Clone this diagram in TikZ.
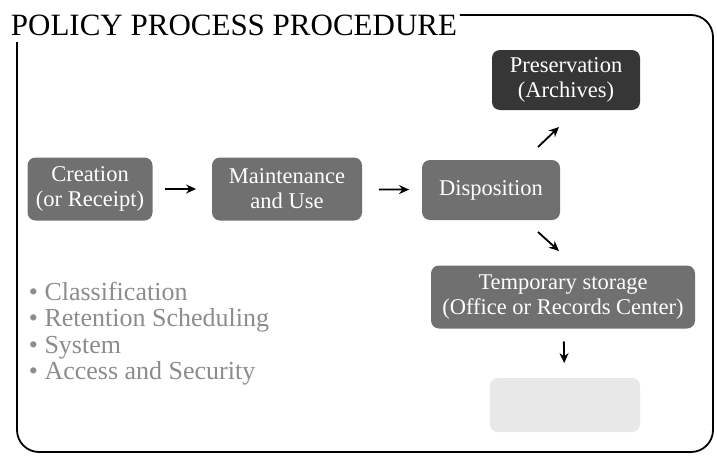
\documentclass[tikz,border=0pt]{standalone}
\usepackage{fontspec}
\setmainfont{Liberation Serif}
\usetikzlibrary{positioning,arrows.meta}

\definecolor{stagegray}{HTML}{707070}
\definecolor{archivegray}{HTML}{363636}
\definecolor{listgray}{HTML}{8C8C8C}

\begin{document}
\begin{tikzpicture}[
                x = 1pt, y = -1pt,
                > = {Stealth[length=10pt, width=9pt]},
                auto,
                node distance = 197pt,
                line width = 1.8pt
                ]

                \tikzstyle{stage}=[
                        rounded corners = 8pt,
                        fill = stagegray,
                        text = white,
                        align = center,
                        font = \fontsize{22.5}{25}\selectfont,
                        minimum height = 63pt,
                        inner sep = 2pt
                ]
                \tikzstyle{task}=[
                        anchor = base west,
                        text = listgray,
                        inner sep = 0pt,
                        font = \fontsize{26}{28}\selectfont
                ]

                \useasboundingbox (0,0) rectangle (717,455);

                % frame and heading
                \node[anchor=base west, inner sep=0pt, font=\fontsize{31}{34}\selectfont] (title) at (10,35) {POLICY PROCESS PROCEDURE};
                \draw[rounded corners=22pt] ([xshift=2pt]title.east |- 0,15) -- (713,15) -- (713,452) -- (17,452) -- (17,42);

                \node[stage, minimum width=125pt] (creation) at (90,189) {Creation\\(or Receipt)};
                \node[stage, minimum width=150pt] (maint) [right of=creation] {Maintenance\\and Use};
                \node[stage, minimum width=138pt, minimum height=60pt] (disp) at (491,190) {Disposition};
                \node[stage, minimum width=148pt, minimum height=60pt, fill=archivegray] (archive) at (566,80) {Preservation\\(Archives)};
                \node[stage, minimum width=264pt] (temp) at (563,297) {Temporary storage\\(Office or Records Center)};
                \node[stage, minimum width=150pt, minimum height=54pt, fill=black!9] (faded) at (565,405) {};

                \coordinate (up1) at (538,147);
                \coordinate (up2) at (559,127);
                \coordinate (dn1) at (538,232);
                \coordinate (dn2) at (559,251);

                \draw[->, shorten <=12pt, shorten >=15pt] (creation) -- (maint);
                \draw[->, shorten <=16pt, shorten >=12pt] (maint) -- (disp);
                \draw[->] (up1) -- (up2);
                \draw[->] (dn1) -- (dn2);
                \draw[->, shorten <=12pt, shorten >=14pt] (temp) -- (faded);

                % records tasks
                \node[task] (class) at (28,300) {\textbullet\ Classification};
                \node[task] (retain) at (28,326.5) {\textbullet\ Retention Scheduling};
                \node[task] (system) at (28,353) {\textbullet\ System};
                \node[task] (access) at (28,379.5) {\textbullet\ Access and Security};
\end{tikzpicture}
\end{document}
